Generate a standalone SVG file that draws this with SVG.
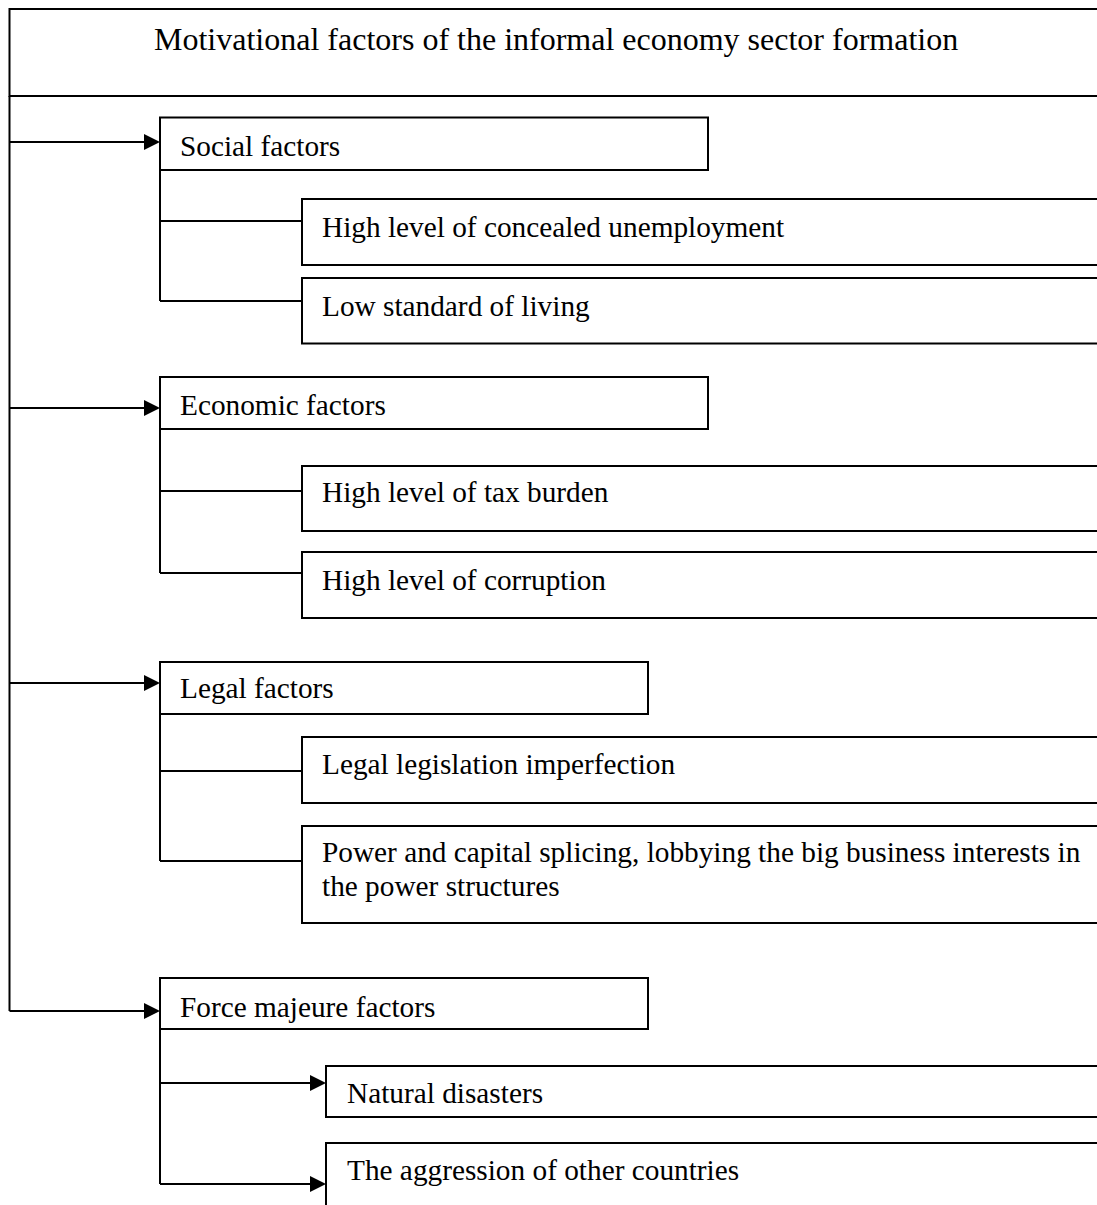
<svg xmlns="http://www.w3.org/2000/svg" width="1097" height="1205" viewBox="0 0 1097 1205">
<defs>
<style>
.box{fill:#fff;stroke:#000;stroke-width:2}
.ln{fill:none;stroke:#000;stroke-width:2}
.ah{fill:#000;stroke:none}
text{font-family:"Liberation Serif","Times New Roman",serif;font-size:29.3px;fill:#000}
.ttl{font-size:32px}
</style>
</defs>
<rect width="1097" height="1205" fill="#fff"/>
<g id="title">
<rect class="box" x="9.5" y="9" width="1100" height="87"/>
<text class="ttl" x="154" y="50">Motivational factors of the informal economy sector formation</text>
</g>
<g id="connectors">
<path class="ln" d="M9.5 96 V1011"/>
<path class="ln" d="M9.5 142 H146 M9.5 408 H146 M9.5 683 H146 M9.5 1011 H146"/>
<polygon class="ah" points="160,142 144,134 144,150"/>
<polygon class="ah" points="160,408 144,400 144,416"/>
<polygon class="ah" points="160,683 144,675 144,691"/>
<polygon class="ah" points="160,1011 144,1003 144,1019"/>
<path class="ln" d="M160 170 V301 M160 221 H302 M160 301 H302"/>
<path class="ln" d="M160 429 V573 M160 491 H302 M160 573 H302"/>
<path class="ln" d="M160 714 V861 M160 771 H302 M160 861 H302"/>
<path class="ln" d="M160 1029 V1184 M160 1083 H312 M160 1184 H312"/>
<polygon class="ah" points="326,1083 310,1075 310,1091"/>
<polygon class="ah" points="326,1184 310,1176 310,1192"/>
</g>
<g id="social">
<rect class="box" x="160" y="117.5" width="548" height="52.5"/>
<text x="180" y="156">Social factors</text>
</g>
<g id="concealed-unemployment">
<rect class="box" x="302" y="199" width="810" height="66"/>
<text x="322" y="237">High level of concealed unemployment</text>
</g>
<g id="low-standard">
<rect class="box" x="302" y="278" width="810" height="65.5"/>
<text x="322" y="316">Low standard of living</text>
</g>
<g id="economic">
<rect class="box" x="160" y="377" width="548" height="52"/>
<text x="180" y="415">Economic factors</text>
</g>
<g id="tax-burden">
<rect class="box" x="302" y="466" width="810" height="65"/>
<text x="322" y="502">High level of tax burden</text>
</g>
<g id="corruption">
<rect class="box" x="302" y="552" width="810" height="66"/>
<text x="322" y="590">High level of corruption</text>
</g>
<g id="legal">
<rect class="box" x="160" y="662" width="488" height="52"/>
<text x="180" y="698">Legal factors</text>
</g>
<g id="legislation">
<rect class="box" x="302" y="737" width="810" height="66"/>
<text x="322" y="774">Legal legislation imperfection</text>
</g>
<g id="power-capital">
<rect class="box" x="302" y="826" width="810" height="97"/>
<text x="322" y="862">Power and capital splicing, lobbying the big business interests in</text>
<text x="322" y="896">the power structures</text>
</g>
<g id="force-majeure">
<rect class="box" x="160" y="978" width="488" height="51"/>
<text x="180" y="1017">Force majeure factors</text>
</g>
<g id="natural-disasters">
<rect class="box" x="326" y="1066" width="790" height="51"/>
<text x="347" y="1103">Natural disasters</text>
</g>
<g id="aggression">
<rect class="box" x="326" y="1143" width="790" height="80"/>
<text x="347" y="1180">The aggression of other countries</text>
</g>
</svg>
